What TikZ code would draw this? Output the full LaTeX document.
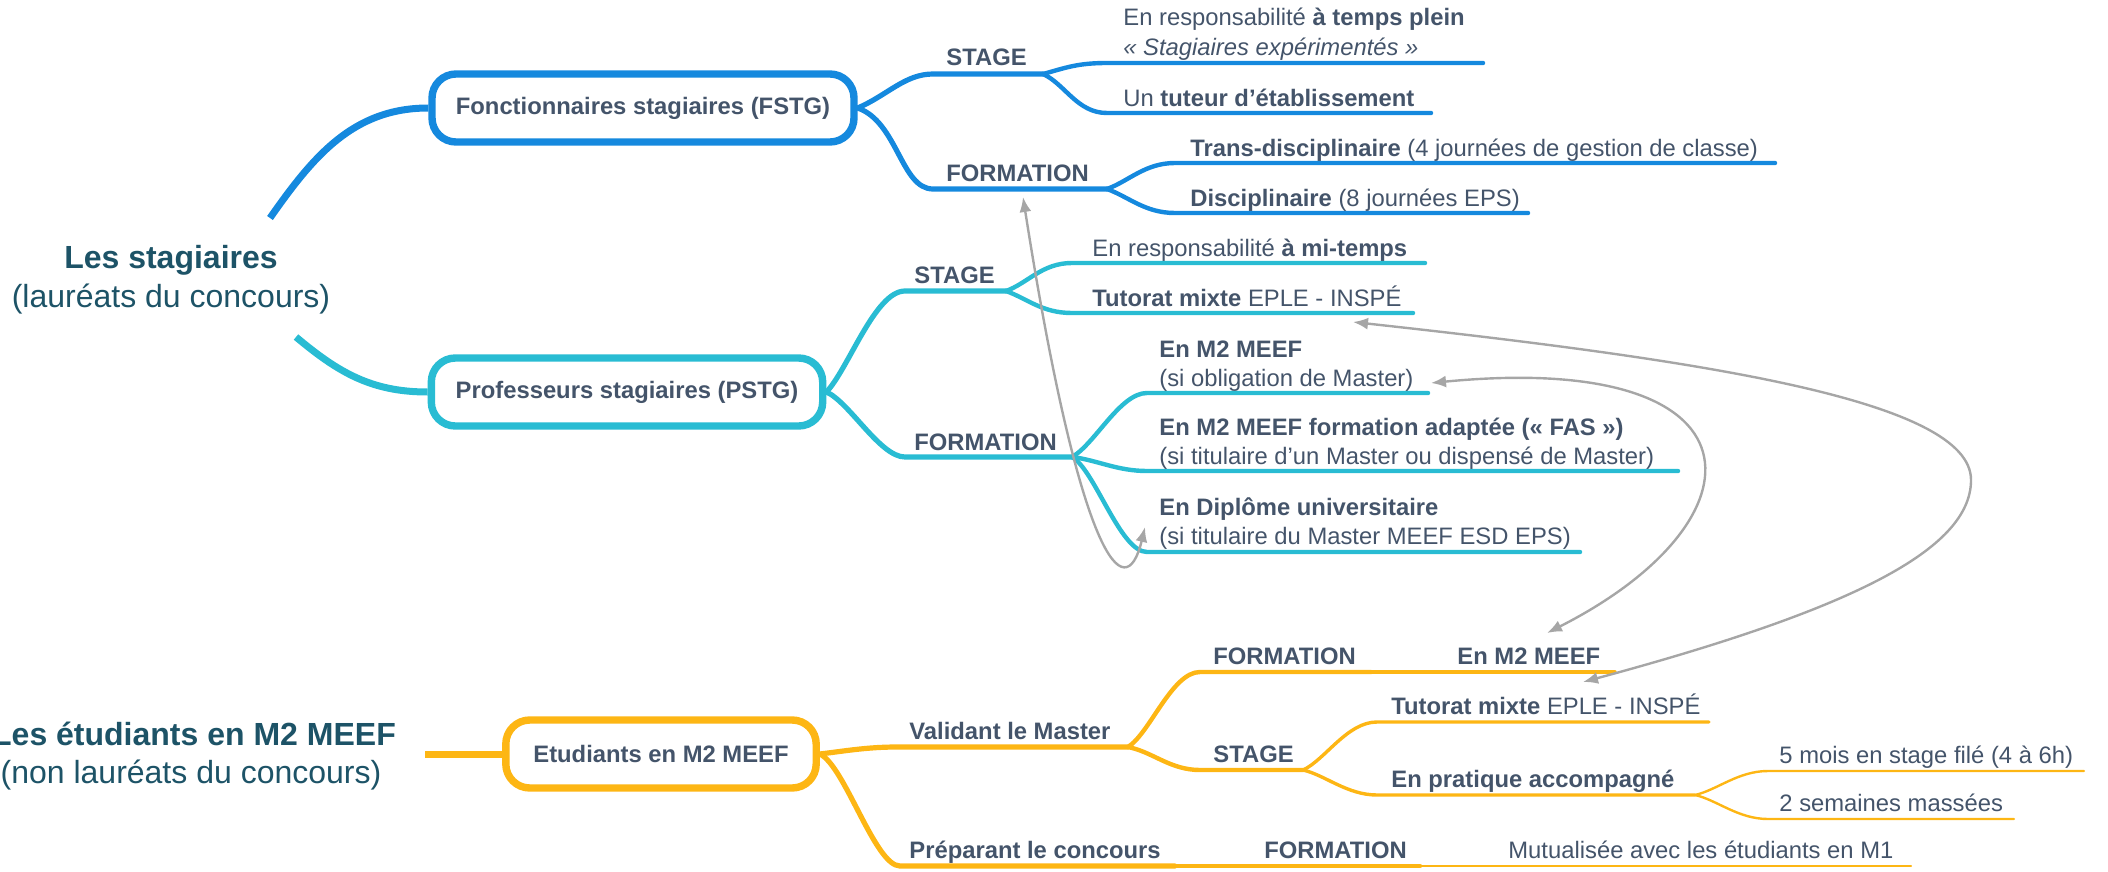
\documentclass[tikz,border=0pt]{standalone}
\usepackage{fontspec}
\setmainfont{Liberation Sans}
\usetikzlibrary{arrows.meta,positioning,calc}
\definecolor{fstgblue}{HTML}{1589DE}
\definecolor{pstgcyan}{HTML}{29BCD3}
\definecolor{etudyellow}{HTML}{FDB614}
\definecolor{txtgray}{HTML}{44546A}
\definecolor{headteal}{HTML}{1D5367}
\definecolor{linkgray}{HTML}{A6A6A6}

\begin{document}
\begin{tikzpicture}[x=0.5pt, y=-0.5pt,
  topic/.style={rectangle, rounded corners=12pt, draw=#1, line width=3.7pt, fill=white, minimum height=34pt, inner sep=0pt, font=\fontsize{11.9}{14}\selectfont\bfseries, text=txtgray},
  headline/.style={anchor=base, inner sep=0pt, font=\fontsize{16}{19}\selectfont, text=headteal},
  lab/.style={anchor=base west, inner sep=0pt, font=\fontsize{11.9}{14}\selectfont, text=txtgray},
  labb/.style={lab, font=\fontsize{11.9}{14}\selectfont\bfseries},
  main/.style={draw=#1, line width=3.5pt},
  lvla/.style={draw=#1, line width=2.6pt, line cap=round},
  lvlb/.style={draw=#1, line width=2.2pt, line cap=round},
  lvlc/.style={draw=#1, line width=1.7pt, line cap=round},
  lvld/.style={draw=#1, line width=1.2pt, line cap=round},
  link/.style={draw=linkgray, line width=1.2pt, {Latex[length=7.5pt,width=6pt]}-{Latex[length=7.5pt,width=6pt]}}
]
  \useasboundingbox (0,0) rectangle (2108,872);

  % central topics
  \node[headline, font=\fontsize{16}{19}\selectfont\bfseries] (stag) at (171,268) {Les stagiaires};
  \node[headline] (stagsub) at (171,307) {(lauréats du concours)};
  \node[headline, font=\fontsize{16}{19}\selectfont\bfseries] (etu) at (194,745) {Les étudiants en M2 MEEF};
  \node[headline] (etusub) at (191,783) {(non lauréats du concours)};

  % main boxes
  \node[topic=fstgblue, minimum width=211pt] (fstg) at (643,108) {Fonctionnaires stagiaires (FSTG)};
  \node[topic=pstgcyan, minimum width=195.7pt] (pstg) at (627,392) {Professeurs stagiaires (PSTG)};
  \node[topic=etudyellow, minimum width=155.2pt] (etud) at (661,754) {Etudiants en M2 MEEF};

  \coordinate (su) at (270,218);
  \coordinate (sd) at (296,337);
  \coordinate (eu) at (425,754);
  \draw[main=fstgblue] (su) to[out=55,in=180] (fstg.west);
  \draw[main=pstgcyan] (sd) to[out=-40,in=180] (pstg.west);
  \draw[main=etudyellow] (eu) -- (etud.west);

  % FSTG
  \coordinate (fsS) at (933,74);   \coordinate (fsSx) at (1043,74);
  \coordinate (fsA) at (1107,63);  \coordinate (fsAe) at (1483,63);
  \coordinate (fsB) at (1107,113); \coordinate (fsBe) at (1431,113);
  \coordinate (fsF) at (933,189);  \coordinate (fsFx) at (1107,189);
  \coordinate (fsC) at (1175,163); \coordinate (fsCe) at (1775,163);
  \coordinate (fsD) at (1175,213); \coordinate (fsDe) at (1528,213);
  \draw[lvla=fstgblue] (fstg.east) .. controls +(30,-13) and +(-28,0) .. (fsS) -- (fsSx);
  \draw[lvla=fstgblue] (fstg.east) .. controls +(40,14) and +(-32,0) .. (fsF) -- (fsFx);
  \draw[lvlb=fstgblue] (fsSx) .. controls +(22,-6) and +(-30,0) .. (fsA) -- (fsAe);
  \draw[lvlb=fstgblue] (fsSx) .. controls +(22,10) and +(-30,0) .. (fsB) -- (fsBe);
  \draw[lvlb=fstgblue] (fsFx) .. controls +(22,-8) and +(-30,0) .. (fsC) -- (fsCe);
  \draw[lvlb=fstgblue] (fsFx) .. controls +(22,8) and +(-30,0) .. (fsD) -- (fsDe);
  \node[labb] (fsStage) at (946,66) {STAGE};
  \node[lab] (fsA1) at (1123,26) {En responsabilité \textbf{à temps plein}};
  \node[lab] (fsA2) at (1123,56) {\textit{« Stagiaires expérimentés »}};
  \node[lab] (fsB1) at (1123,106) {Un \textbf{tuteur d’établissement}};
  \node[labb] (fsForm) at (946,181) {FORMATION};
  \node[lab] (fsC1) at (1190,156) {\textbf{Trans-disciplinaire} (4 journées de gestion de classe)};
  \node[lab] (fsD1) at (1190,206) {\textbf{Disciplinaire} (8 journées EPS)};

  % PSTG
  \coordinate (psS) at (905,291);  \coordinate (psSx) at (1006,291);
  \coordinate (psA) at (1072,263); \coordinate (psAe) at (1425,263);
  \coordinate (psB) at (1072,313); \coordinate (psBe) at (1413,313);
  \coordinate (psF) at (905,457);  \coordinate (psFx) at (1072,457);
  \coordinate (psC) at (1147,393); \coordinate (psCe) at (1428,393);
  \coordinate (psD) at (1147,471); \coordinate (psDe) at (1678,471);
  \coordinate (psE) at (1147,552); \coordinate (psEe) at (1580,552);
  \draw[lvla=pstgcyan] (pstg.east) .. controls +(22,-23) and +(-30,0) .. (psS) -- (psSx);
  \draw[lvla=pstgcyan] (pstg.east) .. controls +(23,10) and +(-25,0) .. (psF) -- (psFx);
  \draw[lvlb=pstgcyan] (psSx) .. controls +(22,-8) and +(-30,0) .. (psA) -- (psAe);
  \draw[lvlb=pstgcyan] (psSx) .. controls +(22,8) and +(-30,0) .. (psB) -- (psBe);
  \draw[lvlb=pstgcyan] (psFx) .. controls +(23,-13) and +(-27,0) .. (psC) -- (psCe);
  \draw[lvlb=pstgcyan] (psFx) .. controls +(25,3) and +(-30,0) .. (psD) -- (psDe);
  \draw[lvlb=pstgcyan] (psFx) .. controls +(23,13) and +(-27,0) .. (psE) -- (psEe);
  \node[labb] (psStage) at (914,283) {STAGE};
  \node[lab] (psA1) at (1092,256) {En responsabilité \textbf{à mi-temps}};
  \node[lab] (psB1) at (1092,306) {\textbf{Tutorat mixte} EPLE - INSPÉ};
  \node[labb] (psForm) at (914,450) {FORMATION};
  \node[labb] (psC1) at (1159,357) {En M2 MEEF};
  \node[lab] (psC2) at (1159,386) {(si obligation de Master)};
  \node[labb] (psD1) at (1159,435) {En M2 MEEF formation adaptée (« FAS »)};
  \node[lab] (psD2) at (1159,464) {(si titulaire d’un Master ou dispensé de Master)};
  \node[labb] (psE1) at (1159,515) {En Diplôme universitaire};
  \node[lab] (psE2) at (1159,544) {(si titulaire du Master MEEF ESD EPS)};

  % Etudiants
  \coordinate (yvS) at (897,747);  \coordinate (yvX) at (1128,747);
  \coordinate (ypS) at (900,866);  \coordinate (ypX) at (1175,866);
  \coordinate (yfS) at (1200,672); \coordinate (yfX) at (1371,672);
  \coordinate (ymE) at (1615,672);
  \coordinate (ysS) at (1200,770); \coordinate (ysX) at (1303,770);
  \coordinate (ytS) at (1377,722); \coordinate (ytE) at (1709,722);
  \coordinate (yeS) at (1377,795); \coordinate (yeX) at (1695,795);
  \coordinate (y5S) at (1768,771); \coordinate (y5E) at (2084,771);
  \coordinate (y2S) at (1768,819); \coordinate (y2E) at (2014,819);
  \coordinate (yffX) at (1420,866); \coordinate (ymuE) at (1911,866);
  \draw[lvla=etudyellow] (etud.east) .. controls +(25,-3) and +(-30,0) .. (yvS) -- (yvX);
  \draw[lvla=etudyellow] (etud.east) .. controls +(25,12) and +(-25,0) .. (ypS) -- (ypX);
  \draw[lvlb=etudyellow] (yvX) .. controls +(22,-14) and +(-28,0) .. (yfS) -- (yfX);
  \draw[lvlc=etudyellow] (yfX) -- (ymE);
  \draw[lvlb=etudyellow] (yvX) .. controls +(25,5) and +(-30,0) .. (ysS) -- (ysX);
  \draw[lvlc=etudyellow] (ysX) .. controls +(22,-10) and +(-30,0) .. (ytS) -- (ytE);
  \draw[lvlc=etudyellow] (ysX) .. controls +(22,5) and +(-30,0) .. (yeS) -- (yeX);
  \draw[lvld=etudyellow] (yeX) .. controls +(22,-5) and +(-30,0) .. (y5S) -- (y5E);
  \draw[lvld=etudyellow] (yeX) .. controls +(22,5) and +(-30,0) .. (y2S) -- (y2E);
  \draw[lvlb=etudyellow] (ypX) -- (yffX);
  \draw[lvld=etudyellow] (yffX) -- (ymuE);
  \node[labb] (yVal) at (909,739) {Validant le Master};
  \node[labb] (yPrep) at (909,858) {Préparant le concours};
  \node[labb] (yForm) at (1213,664) {FORMATION};
  \node[labb] (yM2) at (1457,664) {En M2 MEEF};
  \node[labb] (yStage) at (1213,762) {STAGE};
  \node[lab] (yTut) at (1391,714) {\textbf{Tutorat mixte} EPLE - INSPÉ};
  \node[labb] (yPrat) at (1391,787) {En pratique accompagné};
  \node[lab] (y5) at (1779,763) {5 mois en stage filé (4 à 6h)};
  \node[lab] (y2) at (1779,811) {2 semaines massées};
  \node[labb] (yForm2) at (1264,858) {FORMATION};
  \node[lab] (yMut) at (1508,858) {Mutualisée avec les étudiants en M1};

  % relations
  \coordinate (lk1a) at (1023,197); \coordinate (lk1b) at (1145,527);
  \coordinate (lk2a) at (1431,383); \coordinate (lk2b) at (1547,633);
  \coordinate (lk3a) at (1353,322); \coordinate (lk3b) at (1583,682);
  \coordinate (lk3m) at (1971,480);
  \draw[link] (lk1a) .. controls (1080,560) and (1125,610) .. (lk1b);
  \draw[link] (lk2a) .. controls (1770,350) and (1770,520) .. (lk2b);
  \draw[link] (lk3a) .. controls (1700,360) and (1971,400) .. (lk3m) .. controls (1971,550) and (1850,610) .. (lk3b);
\end{tikzpicture}
\end{document}
